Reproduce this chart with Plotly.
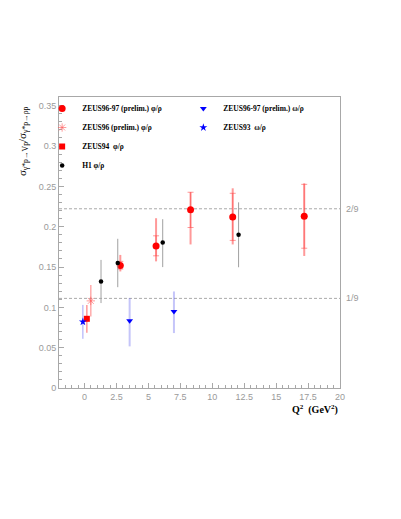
import plotly.graph_objects as go

# ---------------- data ----------------
# ZEUS96-97 (prelim.) phi/rho  -- red circles, stat (capped) + total errors
z9697_phi_q2 = [2.8, 5.6, 8.3, 11.6, 17.2]
z9697_phi_r = [0.152, 0.176, 0.221, 0.212, 0.213]
z9697_phi_stat_hi = [0.157, 0.1887, 0.2427, 0.2414, 0.2525]
z9697_phi_stat_lo = [0.1475, 0.1639, 0.199, 0.183, 0.1733]
z9697_phi_tot_hi = [0.165, 0.2105, 0.2427, 0.2476, 0.2538]
z9697_phi_tot_lo = [0.1445, 0.157, 0.178, 0.178, 0.1637]

# ZEUS96 (prelim.) phi/rho -- pink asterisk
z96_phi_q2 = [0.49]
z96_phi_r = [0.108]
z96_phi_hi = [0.1277]
z96_phi_lo = [0.0887]

# ZEUS94 phi/rho -- red square
z94_phi_q2 = [0.18]
z94_phi_r = [0.0858]
z94_phi_hi = [0.103]
z94_phi_lo = [0.0686]

# H1 phi/rho -- black dots
h1_phi_q2 = [1.29, 2.6, 6.12, 12.06]
h1_phi_r = [0.132, 0.155, 0.1805, 0.19]
h1_phi_hi = [0.1588, 0.185, 0.2093, 0.2302]
h1_phi_lo = [0.1053, 0.125, 0.1499, 0.1497]

# ZEUS96-97 (prelim.) omega/rho -- blue triangles
z9697_om_q2 = [3.53, 7.0]
z9697_om_r = [0.0833, 0.0949]
z9697_om_hi = [0.1115, 0.1197]
z9697_om_lo = [0.0516, 0.0681]

# ZEUS93 omega/rho -- blue star
z93_om_q2 = [-0.13]
z93_om_r = [0.0821]
z93_om_hi = [0.103]
z93_om_lo = [0.061]

# SU(3) expectations
ref_levels = [2 / 9, 1 / 9]
ref_labels = ["2/9", "1/9"]

x_ticks = [0, 2.5, 5, 7.5, 10, 12.5, 15, 17.5, 20]
y_ticks = [0, 0.05, 0.1, 0.15, 0.2, 0.25, 0.3, 0.35]


def up(hi, y):
    return [h - v for h, v in zip(hi, y)]


def dn(lo, y):
    return [v - l for l, v in zip(lo, y)]


SERIF = "Liberation Serif"
SANS = "Liberation Sans"
GRAY = "#9a9a9a"
PINK = "rgba(255,90,90,0.6)"

fig = go.Figure()

# red: stat errors with caps (drawn first, invisible markers)
fig.add_trace(go.Scatter(
    x=z9697_phi_q2, y=z9697_phi_r, mode="markers",
    marker=dict(size=1, color="rgba(0,0,0,0)"),
    error_y=dict(type="data", symmetric=False,
                 array=up(z9697_phi_stat_hi, z9697_phi_r),
                 arrayminus=dn(z9697_phi_stat_lo, z9697_phi_r),
                 color="rgba(255,70,70,0.55)", thickness=1, width=3),
    showlegend=False, hoverinfo="skip"))

# legend column 1 traces
fig.add_trace(go.Scatter(
    x=z9697_phi_q2, y=z9697_phi_r, mode="markers",
    name="ZEUS96-97 (prelim.) φ/ρ", legend="legend",
    marker=dict(symbol="circle", size=7, color="#ff0000"),
    error_y=dict(type="data", symmetric=False,
                 array=up(z9697_phi_tot_hi, z9697_phi_r),
                 arrayminus=dn(z9697_phi_tot_lo, z9697_phi_r),
                 color="rgba(255,70,70,0.55)", thickness=2, width=0)))

fig.add_trace(go.Scatter(
    x=z96_phi_q2, y=z96_phi_r, mode="markers",
    name="ZEUS96 (prelim.) φ/ρ", legend="legend",
    marker=dict(symbol="asterisk-open", size=7, color=PINK,
                line=dict(color=PINK, width=1)),
    error_y=dict(type="data", symmetric=False,
                 array=up(z96_phi_hi, z96_phi_r),
                 arrayminus=dn(z96_phi_lo, z96_phi_r),
                 color="rgba(255,90,90,0.5)", thickness=1.5, width=0)))

fig.add_trace(go.Scatter(
    x=z94_phi_q2, y=z94_phi_r, mode="markers",
    name="ZEUS94  φ/ρ", legend="legend",
    marker=dict(symbol="square", size=6, color="#ff0000"),
    error_y=dict(type="data", symmetric=False,
                 array=up(z94_phi_hi, z94_phi_r),
                 arrayminus=dn(z94_phi_lo, z94_phi_r),
                 color="rgba(255,70,70,0.55)", thickness=1.5, width=0)))

fig.add_trace(go.Scatter(
    x=h1_phi_q2, y=h1_phi_r, mode="markers",
    name="H1 φ/ρ", legend="legend",
    marker=dict(symbol="circle", size=4.5, color="#000000"),
    error_y=dict(type="data", symmetric=False,
                 array=up(h1_phi_hi, h1_phi_r),
                 arrayminus=dn(h1_phi_lo, h1_phi_r),
                 color="#a0a0a0", thickness=1, width=0)))

# legend column 2 traces
fig.add_trace(go.Scatter(
    x=z9697_om_q2, y=z9697_om_r, mode="markers",
    name="ZEUS96-97 (prelim.) ω/ρ", legend="legend2",
    marker=dict(symbol="triangle-down", size=6, color="#0000ff"),
    error_y=dict(type="data", symmetric=False,
                 array=up(z9697_om_hi, z9697_om_r),
                 arrayminus=dn(z9697_om_lo, z9697_om_r),
                 color="rgba(110,110,240,0.4)", thickness=2, width=0)))

fig.add_trace(go.Scatter(
    x=z93_om_q2, y=z93_om_r, mode="markers",
    name="ZEUS93  ω/ρ", legend="legend2",
    marker=dict(symbol="star", size=6, color="#0000ff"),
    error_y=dict(type="data", symmetric=False,
                 array=up(z93_om_hi, z93_om_r),
                 arrayminus=dn(z93_om_lo, z93_om_r),
                 color="rgba(90,90,240,0.55)", thickness=1, width=0)))

# reference lines 2/9 and 1/9
for lvl, lab in zip(ref_levels, ref_labels):
    fig.add_hline(y=lvl, line=dict(color="#aaaaaa", width=1, dash="3px,2px"),
                  layer="below")
    fig.add_annotation(x=1, xref="paper", y=lvl, yref="y", text=lab,
                       showarrow=False, xanchor="left", yanchor="middle",
                       xshift=4, font=dict(family=SANS, size=9, color=GRAY))

# axis titles as annotations
fig.add_annotation(
    x=-0.13, y=0.85, xref="paper", yref="paper",
    text="σ<sub>γ*p→Vp</sub>/σ<sub>γ*p→ρp</sub>", textangle=-90,
    showarrow=False, xanchor="center", yanchor="middle",
    font=dict(family=SERIF, size=11, color="#000000"))
fig.add_annotation(
    x=1, y=-0.0745, xref="paper", yref="paper",
    text="<b>Q<sup>2</sup>  (GeV<sup>2</sup>)</b>",
    showarrow=False, xanchor="right", yanchor="middle",
    font=dict(family=SERIF, size=10, color="#000000"))

axis_common = dict(
    showgrid=False, zeroline=False, showline=True, linecolor="#a8a8a8",
    linewidth=1, mirror=True, ticks="inside", ticklen=5, tickcolor="#a8a8a8",
    tickfont=dict(family=SANS, size=9, color=GRAY),
)

# page body has an 8px margin: figure is 385x503 placed at (8,8)
fig.update_layout(
    width=385, height=503, autosize=False,
    paper_bgcolor="white", plot_bgcolor="white",
    margin=dict(l=50.7, r=52.7, t=89, b=122.7, pad=0),
    xaxis=dict(range=[-2, 20], tickvals=x_ticks,
               ticktext=[f"{v:g}" for v in x_ticks],
               minor=dict(ticks="inside", dtick=0.5, tick0=0, ticklen=3,
                          tickcolor="#a8a8a8"),
               **axis_common),
    yaxis=dict(range=[0, 0.3608], tickvals=y_ticks,
               ticktext=[f"{v:g}" for v in y_ticks],
               minor=dict(ticks="inside", dtick=0.01, tick0=0, ticklen=3,
                          tickcolor="#a8a8a8"),
               **axis_common),
    legend=dict(x=-0.06, y=1.0103, xanchor="left", yanchor="top",
                bgcolor="rgba(0,0,0,0)", borderwidth=0, itemwidth=30,
                font=dict(family=SERIF, size=7.5, color="#000000",
                          weight="bold")),
    legend2=dict(x=0.4425, y=1.0103, xanchor="left", yanchor="top",
                 bgcolor="rgba(0,0,0,0)", borderwidth=0, itemwidth=30,
                 font=dict(family=SERIF, size=7.5, color="#000000",
                           weight="bold")),
)

fig.write_html("out.html")
